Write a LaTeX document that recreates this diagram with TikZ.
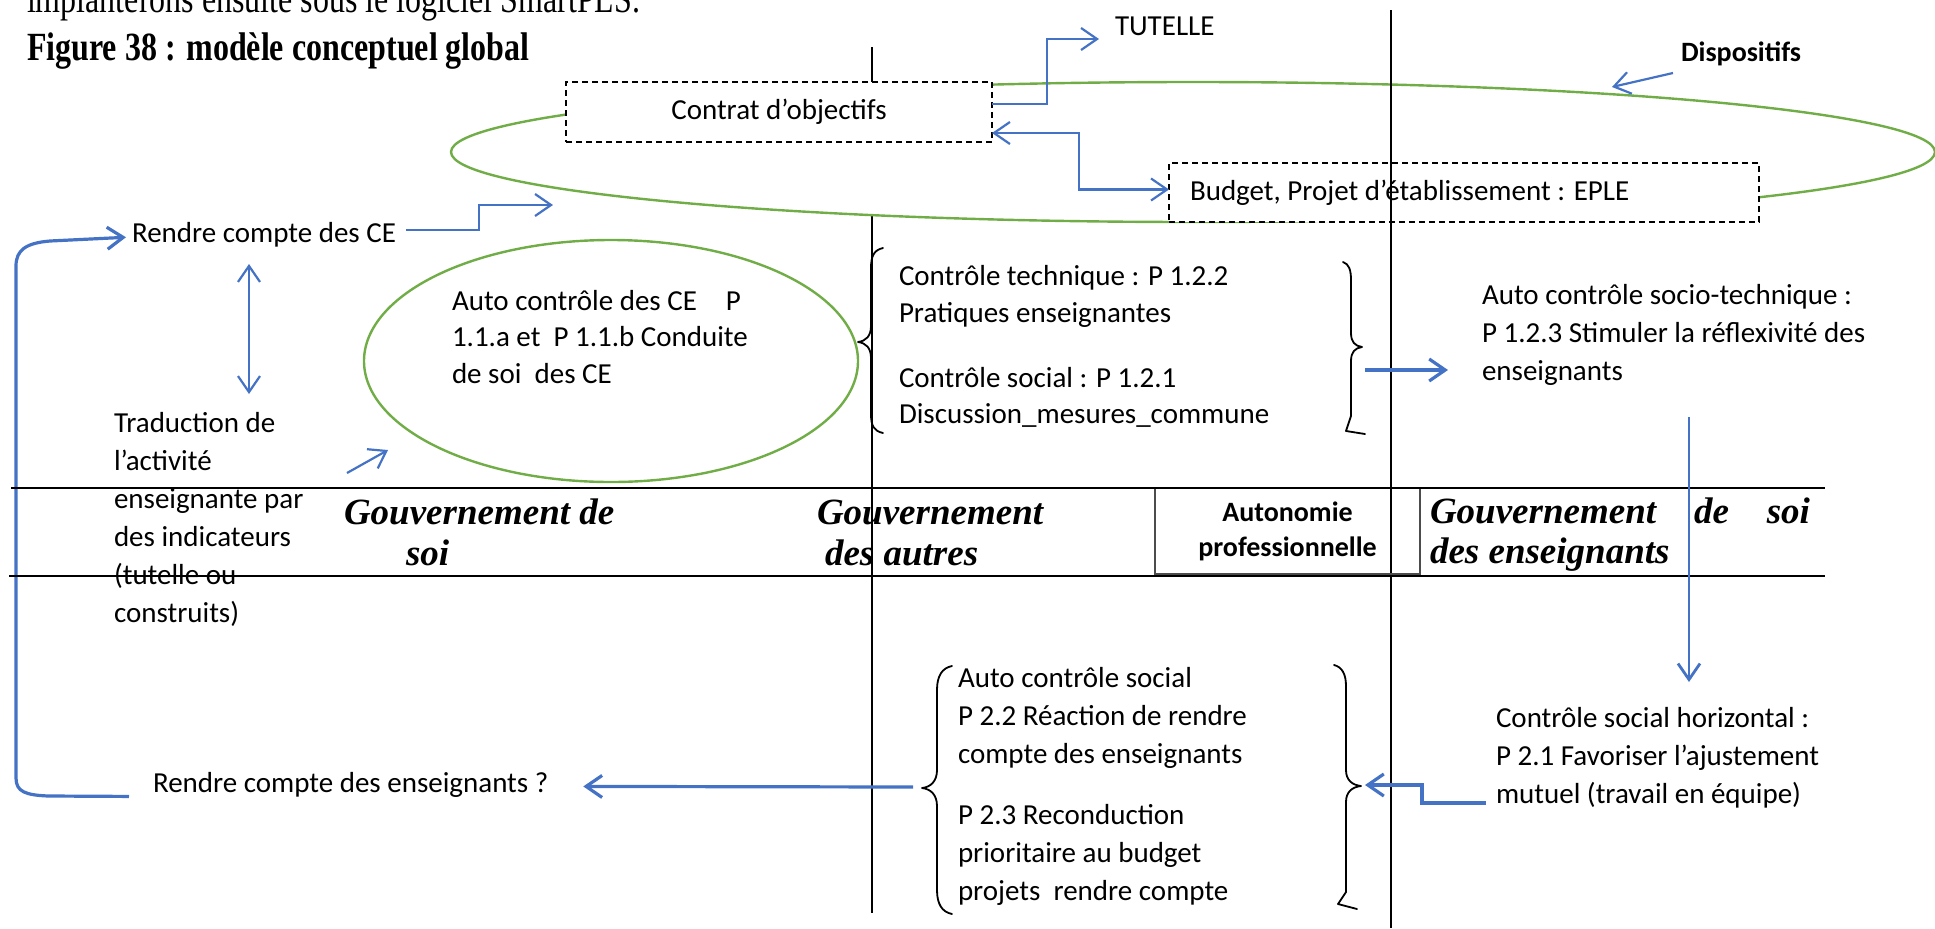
\documentclass[tikz,border=0pt]{standalone}
\usepackage{fontspec}
\setmainfont{Carlito}
\newfontfamily\tnr{Liberation Serif}
\newfontfamily\tnrc{Liberation Serif}[FakeStretch=0.8]
\usetikzlibrary{arrows.meta,shapes.geometric}
\definecolor{obl}{HTML}{4472C4}
\definecolor{ogr}{HTML}{70AD47}
\begin{document}
\begin{tikzpicture}[x=0.5pt,y=-0.5pt,
  every node/.style={inner sep=0pt, outer sep=0pt},
  txt/.style={font=\fontsize{14.5}{19}\selectfont, anchor=base west, align=left},
  boldtxt/.style={font=\bfseries\fontsize{14}{17.5}\selectfont},
  band/.style={font=\tnr\bfseries\itshape\fontsize{18.5}{20.5}\selectfont, anchor=base west, align=left},
  dbox/.style={draw, dashed, dash pattern=on 3pt off 2pt, line width=0.6pt, fill=white, font=\fontsize{14.5}{19}\selectfont},
  arr/.style={draw=obl, line width=1.1pt, -{Straight Barb[length=8pt,width=11pt]}},
  darr/.style={draw=obl, line width=1.1pt, {Straight Barb[length=8pt,width=11pt]}-{Straight Barb[length=8pt,width=11pt]}},
  tarr/.style={arr, line width=1.6pt},
  vline/.style={draw=black, line width=0.6pt},
  hband/.style={draw=black, line width=1.2pt},
  brc/.style={draw=black, line width=0.9pt, line join=round, line cap=round},
  gell/.style={draw=ogr, line width=1.2pt, ellipse}
]
\useasboundingbox (0,0) rectangle (1935,928);
\clip (0,0) rectangle (1935,928);

% heading
\node[font=\tnrc\fontsize{20}{24}\selectfont, anchor=base west] (intro) at (27,12) {implanterons ensuite sous le logiciel SmartPLS.};
\node[font=\tnrc\bfseries\fontsize{20}{24}\selectfont, anchor=base west] (title) at (27,60) {Figure 38 : modèle conceptuel global};

% column line A (behind the ellipse)
\coordinate (aT) at (872,47);
\coordinate (aB) at (872,913);
\draw[vline] (aT) -- (aB);

% big ellipse "Dispositifs"
\node[gell, fill=white, minimum width=742pt, minimum height=70pt] (disp) at (1193,152) {};

% dashed boxes
\node[dbox, minimum width=213pt, minimum height=30pt] (contrat) at (779,112) {Contrat d’objectifs};
\node[dbox, minimum width=295pt, minimum height=29.5pt, inner xsep=10.5pt, inner ysep=0pt] (budget) at (1464,192.5) {\makebox[274pt][l]{Budget, Projet d’établissement : EPLE}};

% column line B
\coordinate (bT) at (1391,10);
\coordinate (bB) at (1391,928);
\draw[vline] (bT) -- (bB);

% TUTELLE
\node[txt] (tutelle) at (1115,35) {TUTELLE};
\coordinate (tutA) at (1099,39);
\draw[arr] ([yshift=4pt]contrat.east) -- ++(55,0) |- (tutA);
\draw[darr] ([yshift=-10.5pt]contrat.east) -- ++(87,0) |- ([yshift=1.5pt]budget.west);

% Dispositifs
\node[boldtxt, anchor=base west] (dispo) at (1681,61) {Dispositifs};
\coordinate (dA) at (1673,73);
\coordinate (dB) at (1612,87);
\draw[arr] (dA) -- (dB);

% Rendre compte des CE
\node[txt] (rce) at (132,242) {Rendre compte des CE};
\coordinate (rceT) at (553,205);
\draw[arr] ([xshift=5pt,yshift=2pt]rce.east) -- ++(73,0) |- (rceT);

% Rendre compte des enseignants ?
\node[txt] (rcens) at (153,792) {Rendre compte des enseignants ?};

% feedback loop
\draw[tarr] ([xshift=-12pt,yshift=-6pt]rcens.west) -- (48,796) .. controls (26,795) and (16,792) .. (16,778) -- (16,266) .. controls (16,250) and (26,243) .. (50,241) -- ([xshift=-3pt,yshift=-1.5pt]rce.west);

% vertical double arrow
\coordinate (v1) at (249,264);
\coordinate (v2) at (249,394);
\draw[darr] (v1) -- (v2);

% Traduction (anchor = baseline of last line)
\node[txt] (trad) at (114,622) {Traduction de\\l’activité\\enseignante par\\des indicateurs\\(tutelle ou\\construits)};
\coordinate (trA) at (347,473);
\coordinate (trB) at (388,450);
\draw[arr] (trA) -- (trB);

% small ellipse
\node[gell, minimum width=247pt, minimum height=121pt] (ace) at (611,361) {};
\node[txt, font=\fontsize{14.5}{18.2}\selectfont] (acet) at (452,383) {\makebox[144.5pt][l]{Auto contrôle des CE\hfill P}\\1.1.a et\ \ P 1.1.b Conduite\\de soi\ \ des CE};

% upper left brace
\draw[brc] (883,248) .. controls (874,250) and (871,256) .. (871,268) -- (871,326) .. controls (871,336) and (866,341) .. (858,342) .. controls (866,343) and (871,348) .. (871,358) -- (871,414) .. controls (871,426) and (874,431) .. (883,433);
\node[txt, font=\fontsize{14.5}{18.5}\selectfont] (ctech) at (899,322) {Contrôle technique : P 1.2.2\\Pratiques enseignantes};
\node[txt, font=\fontsize{14.5}{18}\selectfont] (csoc) at (899,423) {Contrôle social : P 1.2.1\\Discussion\_mesures\_commune};

% upper right brace
\draw[brc] (1343,262) .. controls (1349,264) and (1351,270) .. (1351,280) -- (1351,333) .. controls (1351,342) and (1355,346) .. (1362,347) .. controls (1355,348) and (1351,352) .. (1351,361) -- (1351,416) -- (1346,431) -- (1365,434);

% socio-technique
\node[txt] (soct) at (1482,380) {Auto contrôle socio-technique :\\P 1.2.3 Stimuler la réflexivité des\\enseignants};
\coordinate (rb1) at (1365,370);
\coordinate (rb2) at (1448,370);
\draw[tarr] (rb1) -- (rb2);

% down arrow
\coordinate (d1) at (1689,417);
\coordinate (d2) at (1689,682);

% band
\node[draw=black!70, line width=0.8pt, minimum width=132.5pt, minimum height=43pt, align=center, font=\bfseries\fontsize{14}{17.5}\selectfont] (auto) at (1287.5,531) {Autonomie\\professionnelle};
\coordinate (h1L) at (11,488);
\coordinate (h1R) at (1825,488);
\coordinate (h2L) at (9,576);
\coordinate (h2R) at (1825,576);
\draw[hband] (h1L) -- (h1R);
\draw[hband] (h2L) -- (h2R);
\node[band] (gsoi) at (344,565) {Gouvernement de\\\hspace*{31pt}soi};
\node[band] (gaut) at (817,565) {Gouvernement\\\hspace*{4pt}des autres};
\node[band, font=\tnr\bfseries\itshape\fontsize{18.5}{20}\selectfont] (gens) at (1430,563) {\makebox[190pt][l]{Gouvernement\hfill de\hfill soi}\\des enseignants};
\draw[arr, line width=1.4pt] (d1) -- (d2);

% horizontal social control
\node[txt] (horiz) at (1496,803) {Contrôle social horizontal :\\P 2.1 Favoriser l’ajustement\\mutuel (travail en équipe)};
\coordinate (hA) at (1486,803);
\coordinate (hB) at (1365,785);
\draw[tarr] (hA) -- (1422,803) |- (hB);

% lower right brace
\draw[brc] (1334,665) .. controls (1342,667) and (1346,674) .. (1346,686) -- (1346,770) .. controls (1346,780) and (1352,785) .. (1361,786) .. controls (1352,787) and (1346,792) .. (1346,802) -- (1346,892) -- (1338,904) -- (1357,909);

% lower left brace
\draw[brc] (952,666) .. controls (942,668) and (937,676) .. (937,690) -- (937,770) .. controls (937,781) and (931,787) .. (922,788) .. controls (931,789) and (937,795) .. (937,806) -- (937,890) .. controls (937,904) and (942,912) .. (952,914);

\node[txt] (acs1) at (958,763) {Auto contrôle social\\P 2.2 Réaction de rendre\\compte des enseignants};
\begin{scope}
\clip (940,790) rectangle (1330,904);
\node[txt] (acs2) at (958,900) {P 2.3 Reconduction\\prioritaire au budget\\projets\ \ rendre compte};
\end{scope}

\coordinate (llb) at (913,787);
\draw[tarr] (llb) -- ([xshift=17.5pt,yshift=-1pt]rcens.east);
\end{tikzpicture}
\end{document}
